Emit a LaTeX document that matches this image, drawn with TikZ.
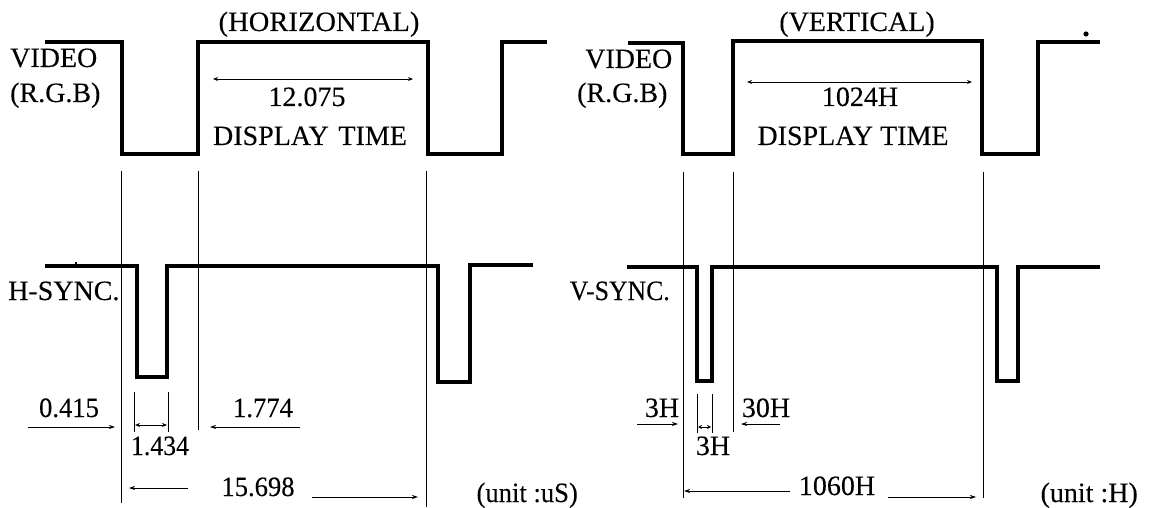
\documentclass[tikz,border=0pt]{standalone}
\usepackage{graphicx}
\usepackage{fontspec}
\setmainfont{Liberation Serif}[FakeBold=0.12]
\usetikzlibrary{arrows.meta}
\newcommand\wx[2]{\scalebox{#1}[1]{#2}}
\begin{document}
\begin{tikzpicture}[x=1pt,y=-1pt,
  wave/.style={line width=3.4pt,line join=miter,line cap=butt},
  guide/.style={line width=0.9pt},
  dim/.style={line width=0.8pt,-{Stealth[length=6pt,width=4pt]}},
  dimboth/.style={line width=0.8pt,{Stealth[length=5pt,width=4pt]}-{Stealth[length=5pt,width=4pt]}},
  lbl/.style={inner sep=0pt,font=\fontsize{28}{32}\selectfont}]
\useasboundingbox (0,0) rectangle (1152,508);
\fill[white] (0,0) rectangle (1152,508);

% ---------- LEFT (HORIZONTAL) ----------
\node[lbl,anchor=base] (htitle) at (319,31) {\wx{1.02}{(HORIZONTAL)}};
\node[lbl,anchor=base west] (hvid) at (10,67) {VIDEO};
\node[lbl,anchor=base west] (hrgb) at (10,102) {(R.G.B)};
\draw[wave] (45,42) -- (122,42) -- (122,154) -- (198,154) -- (198,42) -- (428,42)
  -- (428,154) -- (502,154) -- (502,42) -- (547,42);
\coordinate (hda) at (213,79); \coordinate (hdb) at (413,79);
\draw[dimboth] (hda) -- (hdb);
\node[lbl,anchor=base] (hdisp) at (307,106) {12.075};
\node[lbl,anchor=base] (hdt) at (310,145) {DISPLAY\hspace{0.35em}TIME};

\node[lbl,anchor=base west] (hsync) at (8,300) {H-SYNC.};
\draw[wave] (45,266) -- (137,266) -- (137,377) -- (167,377) -- (167,266) -- (438,266)
  -- (438,382) -- (470,382) -- (470,265) -- (533,265);
\draw[line width=1.2pt] (76,262) -- (76,266);

\draw[guide] (121,171) -- (121,503);
\draw[guide] (198,171) -- (198,430);
\draw[guide] (426,171) -- (426,507);
\draw[guide] (134,392) -- (134,432);
\draw[guide] (168,392) -- (168,432);

\node[lbl,anchor=base] (h415) at (69,417) {\wx{0.95}{0.415}};
\coordinate (h415a) at (28,427); \coordinate (h415b) at (115,427);
\draw[dim] (h415a) -- (h415b);
\node[lbl,anchor=base] (h1434) at (160,455) {\wx{0.92}{1.434}};
\coordinate (h1434a) at (135,425); \coordinate (h1434b) at (167,425);
\draw[dimboth] (h1434a) -- (h1434b);
\node[lbl,anchor=base] (h1774) at (263,417) {\wx{0.95}{1.774}};
\coordinate (h1774a) at (300,427); \coordinate (h1774b) at (210,427);
\draw[dim] (h1774a) -- (h1774b);
\node[lbl,anchor=base] (h15698) at (258,496) {\wx{0.95}{15.698}};
\coordinate (hpa) at (188,488); \coordinate (hpb) at (129,488);
\coordinate (hpc) at (312,497); \coordinate (hpd) at (418,497);
\draw[dim] (hpa) -- (hpb);
\draw[dim] (hpc) -- (hpd);
\node[lbl,anchor=base east] (hunit) at (578,502) {\wx{0.95}{(unit :uS)}};

% ---------- RIGHT (VERTICAL) ----------
\node[lbl,anchor=base] (vtitle) at (857,31) {(VERTICAL)};
\node[lbl,anchor=base west] (vvid) at (585,68) {VIDEO};
\node[lbl,anchor=base west] (vrgb) at (577,102) {(R.G.B)};
\draw[wave] (628,43) -- (683,43) -- (683,154) -- (733,154) -- (733,41) -- (982,41)
  -- (982,154) -- (1038,154) -- (1038,42) -- (1100,42);
\fill (1086,34) circle (2.6pt);
\coordinate (vda) at (747,82); \coordinate (vdb) at (972,82);
\draw[dimboth] (vda) -- (vdb);
\node[lbl,anchor=base] (vdisp) at (860,106) {1024H};
\node[lbl,anchor=base] (vdt) at (853,145) {DISPLAY TIME};

\node[lbl,anchor=base east] (vsync) at (670,300) {\wx{0.92}{V-SYNC.}};
\draw[wave] (627,267) -- (697,267) -- (697,381) -- (712,381) -- (712,267) -- (997,267)
  -- (997,381) -- (1018,381) -- (1018,267) -- (1100,267);

\draw[guide] (683,172) -- (683,498);
\draw[guide] (733,172) -- (733,432);
\draw[guide] (983,172) -- (983,498);
\draw[guide] (697,394) -- (697,433);
\draw[guide] (712,394) -- (712,433);

\node[lbl,anchor=base] (v3a) at (662,417) {3H};
\coordinate (v3aa) at (637,424); \coordinate (v3ab) at (678,424);
\draw[dim] (v3aa) -- (v3ab);
\node[lbl,anchor=base] (v3b) at (713,455) {3H};
\coordinate (v3ba) at (698,427); \coordinate (v3bb) at (711,427);
\draw[line width=0.8pt,{Stealth[length=4pt,width=4pt]}-{Stealth[length=4pt,width=4pt]}] (v3ba) -- (v3bb);
\node[lbl,anchor=base] (v30) at (766,417) {30H};
\coordinate (v30a) at (780,424); \coordinate (v30b) at (741,424);
\draw[dim] (v30a) -- (v30b);
\node[lbl,anchor=base] (v1060) at (837,495) {1060H};
\coordinate (vpa) at (790,491); \coordinate (vpb) at (684,491);
\coordinate (vpc) at (888,497); \coordinate (vpd) at (976,497);
\draw[dim] (vpa) -- (vpb);
\draw[dim] (vpc) -- (vpd);
\node[lbl,anchor=base east] (vunit) at (1138,502) {(unit :H)};
\end{tikzpicture}
\end{document}
